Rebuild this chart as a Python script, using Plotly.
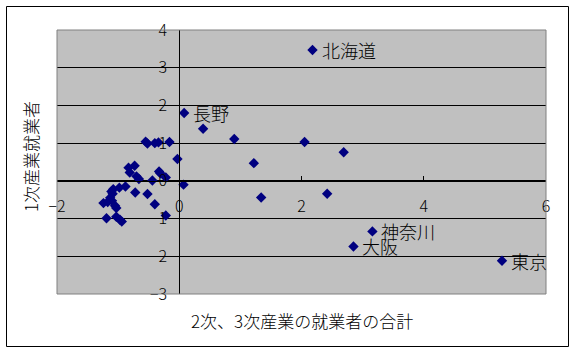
import plotly.graph_objects as go

# Data
x_vals = [2.18, 0.08, 0.39, 0.90, 2.05, 2.69, 1.22, 0.07, 1.34, 2.42, 3.16, 2.85, 5.28,
          -0.55, -0.52, -0.40, -0.34, -0.16,
          -0.03,
          -0.83, -0.73, -0.81, -0.70, -0.66,
          -0.33, -0.31, -0.22, -0.44,
          -0.72, -0.52, -0.40, -0.22,
          -0.88, -0.98, -1.08, -1.11, -1.09, -1.13, -1.10, -1.17, -1.24,
          -1.05, -1.03, -1.19, -1.03, -0.97, -0.94]
y_vals = [3.47, 1.80, 1.38, 1.11, 1.03, 0.76, 0.47, -0.10, -0.44, -0.34, -1.34, -1.74, -2.12,
          1.04, 0.99, 1.00, 1.02, 1.03,
          0.58,
          0.35, 0.40, 0.22, 0.12, 0.05,
          0.25, 0.20, 0.09, 0.01,
          -0.31, -0.35, -0.62, -0.92,
          -0.15, -0.18, -0.22, -0.28, -0.34, -0.45, -0.53, -0.56, -0.59,
          -0.66, -0.72, -0.99, -0.95, -1.03, -1.08]
labels = ["北海道", "長野", "", "", "", "", "", "", "", "", "神奈川", "大阪", "東京"] + [""] * (len(x_vals) - 13)

x_range = [-2, 6]
y_range = [-3, 4]
x_ticks = [-2, 0, 2, 4, 6]
y_ticks = [-3, -2, -1, 0, 1, 2, 3, 4]

x_title = "2次、3次産業の就業者の合計"
y_title = "1次産業就業者"

FONT = "Noto Sans CJK JP"
W, H = 576, 353
ML, MR, MT, MB = 57, 30, 30, 59
pw, ph = W - ML - MR, H - MT - MB


def px2paper_x(px):
    return (px - ML) / pw


def px2paper_y(py):
    return (H - MB - py) / ph


fig = go.Figure()
fig.add_trace(go.Scatter(
    x=x_vals, y=y_vals, mode="markers",
    marker=dict(symbol="diamond", size=8, color="#000080", line=dict(width=0)),
    cliponaxis=False, hoverinfo="skip", showlegend=False,
))

annotations = [
    dict(text=x_title, xref="paper", yref="paper", x=px2paper_x(302), y=px2paper_y(320),
         showarrow=False, font=dict(family=FONT, size=17, color="black", weight=300),
         xanchor="center", yanchor="middle"),
    dict(text=y_title, xref="paper", yref="paper", x=px2paper_x(30), y=px2paper_y(157),
         showarrow=False, textangle=-90, font=dict(family=FONT, size=17, color="black", weight=300),
         xanchor="center", yanchor="middle"),
]
for xv, yv, lab in zip(x_vals, y_vals, labels):
    if lab:
        annotations.append(dict(text=lab, x=xv, y=yv, xref="x", yref="y", showarrow=False,
                                xanchor="left", yanchor="middle", xshift=7,
                                font=dict(family=FONT, size=18, color="black", weight=300)))

fig.update_layout(
    width=W, height=H,
    margin=dict(l=ML, r=MR, t=MT, b=MB),
    paper_bgcolor="white", plot_bgcolor="#C0C0C0",
    font=dict(family=FONT, color="black"),
    xaxis=dict(range=x_range, tickvals=x_ticks, showgrid=False, zeroline=False,
               showline=True, linecolor="black", linewidth=1,
               anchor="free", position=(0 - y_range[0]) / (y_range[1] - y_range[0]),
               ticks="inside", ticklen=5, tickcolor="black",
               tickfont=dict(family=FONT, size=16, color="black", weight=300),
               ticklabelstandoff=11, domain=[0, 1]),
    yaxis=dict(range=y_range, tickvals=y_ticks, showgrid=True, gridcolor="black", gridwidth=1,
               zeroline=False, showline=True, linecolor="black", linewidth=1,
               anchor="free", position=(0 - x_range[0]) / (x_range[1] - x_range[0]),
               ticks="inside", ticklen=5, tickcolor="black",
               tickfont=dict(family=FONT, size=16, color="black", weight=300),
               ticklabelstandoff=9, domain=[0, 1]),
    shapes=[
        dict(type="rect", xref="paper", yref="paper", x0=0, x1=1, y0=0, y1=1,
             line=dict(color="#808080", width=1), layer="above"),
        dict(type="rect", xref="paper", yref="paper",
             x0=px2paper_x(6.5), x1=px2paper_x(568.5), y0=px2paper_y(346.5), y1=px2paper_y(6.5),
             line=dict(color="black", width=1)),
    ],
    annotations=annotations,
)

fig.write_html("out.html")
